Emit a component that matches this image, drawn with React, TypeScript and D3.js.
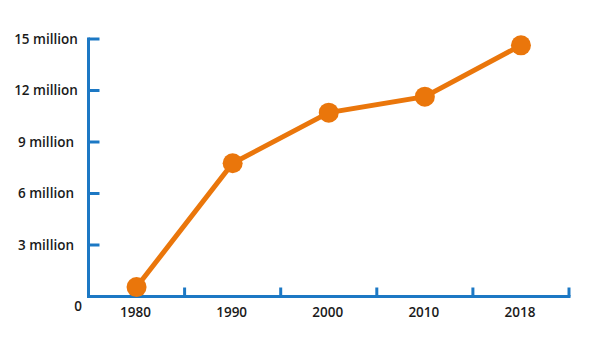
import React from "react";
import * as d3 from "d3";

const categories = ["1980", "1990", "2000", "2010", "2018"];
const values = [0.55, 7.76, 10.71, 11.64, 14.63];
const yTicks = [3, 6, 9, 12, 15];
const yTickLabels = ["3 million", "6 million", "9 million", "12 million", "15 million"];

const W = 606, H = 339;
const left = 88.5, right = 569, top = 39, bottom = 296.5;
const orange = "#EA760B";
const blue = "#1C78C4";
const font = "'Open Sans', sans-serif";

export default function App() {
  const x = d3.scaleBand<string>().domain(categories).range([left, right]);
  const y = d3.scaleLinear().domain([0, 15]).range([bottom, top]);
  const line = d3
    .line<number>()
    .x((_, i) => (x(categories[i]) as number) + x.bandwidth() / 2)
    .y((d) => y(d));
  const bandEdges = categories.map((c) => (x(c) as number) + x.bandwidth());

  return (
    <svg width={W} height={H} style={{ position: "absolute", left: 0, top: 0, background: "#fff" }}>
      {/* y axis */}
      <line x1={left} x2={left} y1={top - 1.5} y2={bottom + 1.5} stroke={blue} strokeWidth={3} />
      {yTicks.map((t, i) => (
        <g key={t}>
          <line x1={left} x2={left + 11} y1={y(t)} y2={y(t)} stroke={blue} strokeWidth={3} />
          <text x={46} y={y(t)} dy="0.35em" textAnchor="middle" fontFamily={font} fontSize={13.5} fontWeight={600} fill="#1a1a1a">
            {yTickLabels[i]}
          </text>
        </g>
      ))}
      <text x={78} y={306} dy="0.35em" textAnchor="middle" fontFamily={font} fontSize={13.5} fontWeight={600} fill="#1a1a1a">0</text>
      {/* x axis */}
      <line x1={left - 1.5} x2={right + 1.5} y1={bottom} y2={bottom} stroke={blue} strokeWidth={3} />
      {bandEdges.map((e, i) => (
        <line key={i} x1={e} x2={e} y1={bottom} y2={bottom - 9} stroke={blue} strokeWidth={3} />
      ))}
      {categories.map((c) => (
        <text key={c} x={(x(c) as number) + x.bandwidth() / 2 - 1} y={312} dy="0.35em" textAnchor="middle" fontFamily={font} fontSize={13.5} fontWeight={600} fill="#1a1a1a">
          {c}
        </text>
      ))}
      {/* line */}
      <path d={line(values) || ""} fill="none" stroke={orange} strokeWidth={5} />
      {values.map((v, i) => (
        <circle key={i} cx={(x(categories[i]) as number) + x.bandwidth() / 2} cy={y(v)} r={10} fill={orange} />
      ))}
    </svg>
  );
}
